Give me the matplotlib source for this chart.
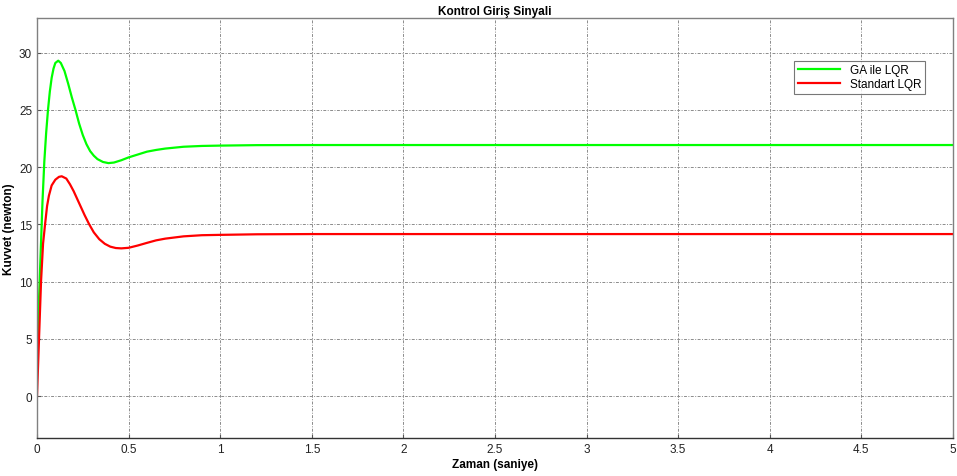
"""Kontrol giriş sinyali: GA ile LQR vs standart LQR."""

import matplotlib

matplotlib.use("Agg")
import matplotlib.pyplot as plt

# values
GA_TIME = [0.0, 0.01, 0.02, 0.03, 0.04, 0.05, 0.06, 0.07, 0.08, 0.09, 0.10,
           0.116, 0.13, 0.15, 0.17, 0.19, 0.21, 0.23, 0.25, 0.27, 0.29, 0.31,
           0.33, 0.36, 0.39, 0.42, 0.46, 0.50, 0.55, 0.60, 0.65, 0.70, 0.80,
           0.90, 1.00, 1.20, 1.50, 5.00]
GA_FORCE = [3.0, 8.0, 12.5, 17.0, 20.5, 23.0, 25.0, 26.6, 27.8, 28.6, 29.1,
            29.3, 29.1, 28.4, 27.3, 26.1, 25.0, 23.8, 22.8, 22.0, 21.4, 21.0,
            20.7, 20.45, 20.35, 20.4, 20.6, 20.85, 21.1, 21.35, 21.5, 21.62,
            21.78, 21.85, 21.88, 21.92, 21.93, 21.93]

STD_TIME = [0.0, 0.011, 0.022, 0.033, 0.044, 0.055, 0.065, 0.08, 0.10, 0.12,
            0.135, 0.16, 0.18, 0.20, 0.22, 0.24, 0.26, 0.285, 0.31, 0.34,
            0.37, 0.40, 0.43, 0.46, 0.50, 0.55, 0.60, 0.65, 0.70, 0.80, 0.90,
            1.00, 1.20, 1.50, 5.00]
STD_FORCE = [0.0, 5.0, 10.0, 13.3, 15.0, 16.6, 17.5, 18.4, 18.9, 19.15,
             19.2, 19.0, 18.5, 17.9, 17.2, 16.5, 15.8, 15.0, 14.3, 13.7,
             13.3, 13.05, 12.93, 12.9, 12.95, 13.15, 13.38, 13.6, 13.75,
             13.95, 14.05, 14.08, 14.13, 14.15, 14.15]

X_TICKS = [0, 0.5, 1, 1.5, 2, 2.5, 3, 3.5, 4, 4.5, 5]
X_TICK_LABELS = ["0", "0.5", "1", "1.5", "2", "2.5", "3", "3.5", "4", "4.5", "5"]
Y_TICKS = [0, 5, 10, 15, 20, 25, 30]

plt.rcParams["font.family"] = ["Liberation Sans", "DejaVu Sans"]

fig = plt.figure(figsize=(9.57, 4.77), dpi=100)
ax = fig.add_axes([37 / 957, 1 - 439 / 477, 916 / 957, 420 / 477])

ax.plot(GA_TIME, GA_FORCE, color="#00ff00", linewidth=1.6, label="GA ile LQR")
ax.plot(STD_TIME, STD_FORCE, color="#ff0000", linewidth=1.6, label="Standart LQR")

ax.set_xlim(0, 5)
ax.set_ylim(-3.67, 33.03)
ax.set_xticks(X_TICKS)
ax.set_xticklabels(X_TICK_LABELS)
ax.set_yticks(Y_TICKS)
ax.tick_params(direction="in", length=3, labelsize=8.5, colors="#555555",
               labelcolor="#222222")

ax.grid(True, color="#8c8c8c", linewidth=0.7, linestyle=(0, (3, 1.5, 1, 1.5)))
for name, spine in ax.spines.items():
    spine.set_color("#808080" if name in ("left", "top", "right") else "#333333")
    spine.set_linewidth(1.0)

ax.set_title("Kontrol Giriş Sinyali", fontsize=8.5, fontweight="bold", pad=3)
ax.set_xlabel("Zaman (saniye)", fontsize=8.5, fontweight="bold", labelpad=2)
ax.set_ylabel("Kuvvet (newton)", fontsize=8.5, fontweight="bold", labelpad=3)

legend = ax.legend(
    loc="upper right",
    bbox_to_anchor=(0.969, 0.898),
    fontsize=8.5,
    frameon=True,
    fancybox=False,
    borderpad=0.3,
    handlelength=3.6,
    labelspacing=0.15,
    borderaxespad=0.0,
)
legend.get_frame().set_edgecolor("#555555")
legend.get_frame().set_linewidth(0.8)

fig.savefig("out.png", dpi=100)
plt.close(fig)
